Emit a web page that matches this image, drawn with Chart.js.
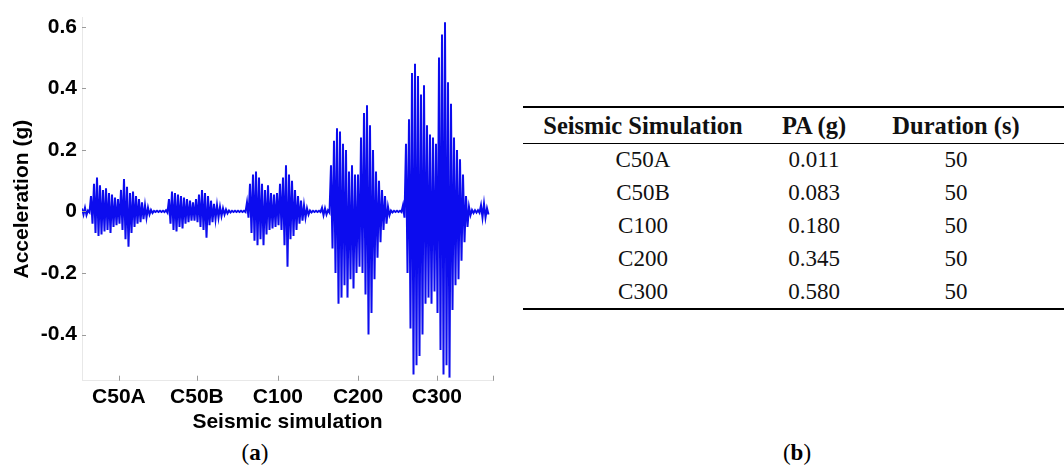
<!DOCTYPE html>
<html>
<head>
<meta charset="utf-8">
<script src="https://cdn.jsdelivr.net/npm/chart.js@4.4.1/dist/chart.umd.min.js"></script>
<style>
  body { margin: 0; background: #fff; width: 1064px; height: 468px; position: relative; overflow: hidden; }
  #wrap { position: absolute; left: 0; top: 0; width: 500px; height: 440px; }
  .cap { position: absolute; font-family: 'Liberation Serif', serif; font-size: 23px; color: #000; transform: translate(-50%, -50%); }
  #tbl { position: absolute; left: 523px; top: 106px; width: 541px; border-collapse: collapse; font-family: 'Liberation Serif', serif; color: #111; }
  #tbl th { font-weight: bold; font-size: 24.5px; height: 35px; padding: 0; border-top: 2.5px solid #000; border-bottom: 1px solid #000; }
  #tbl td { font-size: 23px; height: 32.8px; padding: 0; text-align: center; }
  #tbl tr:last-child td { border-bottom: 2.5px solid #000; }
</style>
</head>
<body>
<div id="wrap"><canvas id="chart1" width="500" height="440"></canvas></div>
<div class="cap" style="left:255px; top:453px;">(<b>a</b>)</div>
<div class="cap" style="left:797px; top:453px;">(<b>b</b>)</div>
<table id="tbl"></table>

<script>
// 가속도 파형 (3px 간격 상/하 포락선 값, 그림에서 읽음)
const upper = [
  0.01, 0.012, 0.003, 0.05, 0.09, 0.11, 0.085, 0.07, 0.075, 0.06,
  0.055, 0.045, 0.04, 0.07, 0.105, 0.08, 0.06, 0.065, 0.05, 0.04,
  0.03, 0.02, 0.012, 0.005, 0.002, 0.002, 0.002, 0.002, 0.004, 0.04,
  0.065, 0.06, 0.055, 0.05, 0.045, 0.04, 0.035, 0.03, 0.04, 0.055,
  0.07, 0.06, 0.05, 0.035, 0.025, 0.02, 0.015, 0.01, 0.006, 0.003,
  0.002, 0.002, 0.002, 0.002, 0.002, 0.03, 0.09, 0.12, 0.13, 0.11,
  0.09, 0.07, 0.085, 0.06, 0.055, 0.06, 0.09, 0.11, 0.15, 0.12,
  0.1, 0.07, 0.05, 0.035, 0.02, 0.01, 0.003, 0.002, 0.002, 0.002,
  0.012, 0.01, 0.004, 0.15, 0.23, 0.27, 0.26, 0.22, 0.2, 0.13,
  0.15, 0.12, 0.12, 0.24, 0.32, 0.345, 0.28, 0.2, 0.13, 0.1,
  0.07, 0.05, 0.015, 0.003, 0.002, 0.002, 0.002, 0.02, 0.22, 0.3,
  0.45, 0.48, 0.44, 0.38, 0.41, 0.28, 0.25, 0.24, 0.22, 0.5,
  0.575, 0.615, 0.42, 0.35, 0.24, 0.2, 0.17, 0.12, 0.05, 0.015,
  0.005, 0.004, 0.004, 0.02, 0.025, 0.01
];
const lower = [
  -0.01, -0.012, -0.003, -0.04, -0.07, -0.08, -0.075, -0.065, -0.06, -0.07,
  -0.05, -0.045, -0.04, -0.06, -0.09, -0.115, -0.07, -0.05, -0.04, -0.035,
  -0.025, -0.02, -0.01, -0.005, -0.002, -0.002, -0.002, -0.002, -0.004, -0.04,
  -0.06, -0.065, -0.05, -0.055, -0.04, -0.035, -0.03, -0.03, -0.035, -0.05,
  -0.06, -0.085, -0.045, -0.035, -0.025, -0.02, -0.015, -0.01, -0.006, -0.003,
  -0.002, -0.002, -0.002, -0.002, -0.002, -0.02, -0.07, -0.095, -0.11, -0.09,
  -0.11, -0.075, -0.06, -0.055, -0.05, -0.045, -0.06, -0.11, -0.18, -0.09,
  -0.08, -0.06, -0.04, -0.03, -0.02, -0.01, -0.003, -0.002, -0.002, -0.002,
  -0.012, -0.01, -0.004, -0.12, -0.2, -0.3, -0.28, -0.24, -0.28, -0.22,
  -0.25, -0.2, -0.18, -0.2, -0.27, -0.4, -0.33, -0.22, -0.15, -0.1,
  -0.06, -0.04, -0.012, -0.003, -0.002, -0.002, -0.002, -0.02, -0.2, -0.38,
  -0.53, -0.5, -0.47, -0.4, -0.3, -0.28, -0.3, -0.26, -0.33, -0.45,
  -0.53, -0.5, -0.54, -0.32, -0.24, -0.22, -0.16, -0.1, -0.05, -0.012,
  -0.005, -0.004, -0.004, -0.02, -0.02, -0.01
];

// x축 눈금 (샘플 인덱스 위치) 과 라벨
const xTickPos = [12.3, 38.3, 65.3, 92, 118.3, 137];
const xTickLabels = ['C50A', 'C50B', 'C100', 'C200', 'C300', ''];
const yTicks = [-0.4, -0.2, 0, 0.2, 0.4, 0.6];

// 표 데이터
const simNames = ['C50A', 'C50B', 'C100', 'C200', 'C300'];
const peakAcc = ['0.011', '0.083', '0.180', '0.345', '0.580'];
const durations = [50, 50, 50, 50, 50];
const headers = ['Seismic Simulation', 'PA (g)', 'Duration (s)'];

// 상/하 값을 번갈아 찍어서 파형처럼 보이게
const wave = [];
for (let i = 0; i < upper.length; i++) {
    wave.push({ x: i, y: upper[i] });
    wave.push({ x: i + 0.5, y: lower[i] });
}

const labelFont = { family: "'Liberation Sans', Arial, sans-serif", size: 21, weight: 'bold' };

// 안쪽으로 들어가는 짧은 눈금
const innerTicks = {
    id: 'innerTicks',
    afterDraw(chart) {
        const ctx = chart.ctx;
        const xs = chart.scales.x, ys = chart.scales.y;
        const a = chart.chartArea;
        ctx.save();
        ctx.strokeStyle = '#9a9a9a';
        ctx.lineWidth = 1;
        ctx.beginPath();
        for (const v of xTickPos) {
            const px = Math.round(xs.getPixelForValue(v)) + 0.5;
            ctx.moveTo(px, a.bottom);
            ctx.lineTo(px, a.bottom - 5);
        }
        for (const v of yTicks) {
            const py = Math.round(ys.getPixelForValue(v)) + 0.5;
            ctx.moveTo(a.left, py);
            ctx.lineTo(a.left + 4, py);
        }
        ctx.stroke();
        ctx.restore();
    }
};

const chart1 = document.getElementById('chart1');
new Chart(chart1, {
    type: 'line',
    data: {
        datasets: [{
            data: wave,
            borderColor: 'rgb(12,12,238)',
            borderWidth: 2,
            pointRadius: 0,
            tension: 0
        }]
    },
    options: {
        responsive: false,
        animation: false,
        layout: { padding: { top: 10.6, right: 7, left: 0, bottom: 0 } },
        plugins: { legend: { display: false }, tooltip: { enabled: false } },
        scales: {
            x: {
                type: 'linear',
                min: 0,
                max: 137,
                afterBuildTicks: s => { s.ticks = xTickPos.map(v => ({ value: v })); },
                afterFit: s => { s.height = 59.3; },
                grid: { display: false, drawTicks: false },
                border: { display: true, color: '#e8e8e8' },
                ticks: {
                    autoSkip: false,
                    maxRotation: 0,
                    padding: 4,
                    color: '#000',
                    font: labelFont,
                    callback: (v, i) => xTickLabels[i]
                },
                title: {
                    display: true,
                    text: 'Seismic simulation',
                    color: '#000',
                    font: labelFont,
                    padding: { top: 0, bottom: 5 }
                }
            },
            y: {
                min: -0.55,
                max: 0.63,
                afterBuildTicks: s => { s.ticks = yTicks.map(v => ({ value: v })); },
                afterFit: s => { s.width = 82; },
                grid: { display: false, drawTicks: false },
                border: { display: true, color: '#e8e8e8' },
                ticks: {
                    padding: 5,
                    color: '#000',
                    font: labelFont,
                    callback: v => String(Math.round(v * 10) / 10)
                },
                title: {
                    display: true,
                    text: 'Acceleration (g)',
                    color: '#000',
                    font: labelFont,
                    padding: { top: 10, bottom: 0 }
                }
            }
        }
    },
    plugins: [innerTicks]
});

// 표 만들기
const tbl = document.getElementById('tbl');
let html = '<tr>';
const widths = [240, 102, 182, 17];
headers.forEach((h, i) => { html += '<th style="width:' + widths[i] + 'px">' + h + '</th>'; });
html += '<th style="width:17px"></th></tr>';
for (let i = 0; i < simNames.length; i++) {
    html += '<tr><td>' + simNames[i] + '</td><td>' + peakAcc[i] + '</td><td>' + durations[i] + '</td><td></td></tr>';
}
tbl.innerHTML = html;
</script>
</body>
</html>
